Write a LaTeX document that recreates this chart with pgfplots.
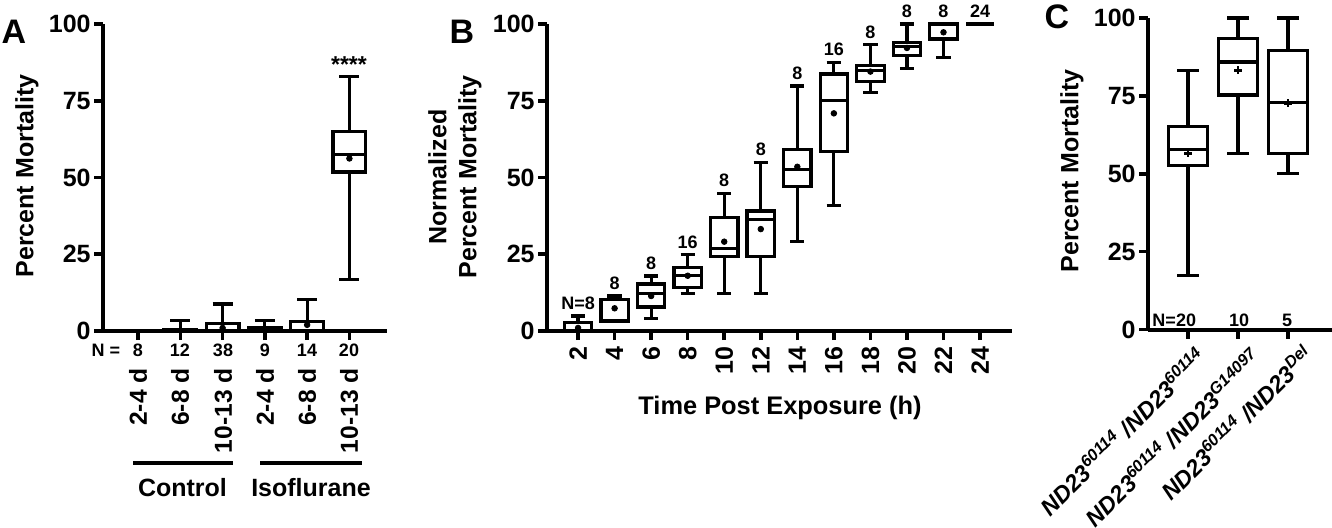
\documentclass[border=0pt]{standalone}
\usepackage{pgfplots}
\pgfplotsset{compat=1.18}
\usepgfplotslibrary{statistics}
\usepackage{fontspec}
\setmainfont{Liberation Sans}

\pgfplotsset{
  panel/.style={
    scale only axis,
    anchor=south west,
    axis lines=left,
    axis line style={line width=2pt,-},
    tick style={line width=1.8pt, black},
    major tick length=4.5pt,
    tick align=outside,
    ymin=0, ymax=100,
    ytick={0,25,50,75,100},
    /pgf/number format/assume math mode=true,
    yticklabel style={font=\bfseries\fontsize{12.5}{13}\selectfont, inner sep=1.5pt},
    xticklabel style={font=\bfseries\fontsize{12}{12}\selectfont},
    clip=false,
    boxplot/draw direction=y,
  },
  bx/.style={black, line width=1.6pt, solid, boxplot prepared={#1}},
  meandot/.style={only marks, mark=*, mark size=1.4pt, black},
}
\tikzset{nlab/.style={font=\bfseries\fontsize{9}{9}\selectfont, inner sep=0pt}}

\begin{document}
\begin{tikzpicture}
\useasboundingbox (0,0) rectangle (666pt,-263.5pt);

% ---------------- Panel A ----------------
\begin{axis}[panel, at={(51.5pt,-165.5pt)}, width=142pt, height=153.5pt,
  xmin=-0.83, xmax=5.89, xtick={0,...,5}, xticklabel={\relax}]
\pgfplotsset{boxplot/box extend=0.78, boxplot/whisker extend=0.47}
\addplot[bx={draw position=0, lower whisker=0, lower quartile=0, median=0, upper quartile=0, upper whisker=0}] coordinates {};
\addplot[bx={draw position=1, lower whisker=0, lower quartile=0, median=0, upper quartile=0.5, upper whisker=3.4}] coordinates {};
\addplot[bx={draw position=2, lower whisker=0, lower quartile=0, median=0, upper quartile=2.5, upper whisker=8.8}] coordinates {};
\addplot[bx={draw position=3, lower whisker=0, lower quartile=0, median=0, upper quartile=1.0, upper whisker=3.4}] coordinates {};
\addplot[bx={draw position=4, lower whisker=0, lower quartile=0, median=0, upper quartile=3.0, upper whisker=10.3}] coordinates {};
\addplot[bx={draw position=5, lower whisker=16.8, lower quartile=51.8, median=57.6, upper quartile=64.9, upper whisker=83.0}] coordinates {};
\addplot[meandot] coordinates {(2,1.0) (3,0.5) (4,2.0) (5,56.2)};
\end{axis}

% ---------------- Panel B ----------------
\begin{axis}[panel, at={(273.5pt,-165.5pt)}, width=232.5pt, height=153.5pt,
  xmin=0.3, xmax=25.75, xtick={2,4,...,24},
  xticklabel style={rotate=90, anchor=east, font=\bfseries\fontsize{12.5}{12.5}\selectfont}]
\pgfplotsset{boxplot/box extend=1.5, boxplot/whisker extend=0.78}
\addplot[bx={draw position=2, lower whisker=0, lower quartile=0, median=0, upper quartile=2.8, upper whisker=4.9}] coordinates {};
\addplot[bx={draw position=4, lower whisker=3.0, lower quartile=3.0, median=3.5, upper quartile=10.3, upper whisker=11.4}] coordinates {};
\addplot[bx={draw position=6, lower whisker=4.1, lower quartile=7.8, median=12.1, upper quartile=15.3, upper whisker=17.9}] coordinates {};
\addplot[bx={draw position=8, lower whisker=12.3, lower quartile=14.2, median=18.2, upper quartile=20.7, upper whisker=24.8}] coordinates {};
\addplot[bx={draw position=10, lower whisker=12.3, lower quartile=24.4, median=26.9, upper quartile=37.0, upper whisker=44.9}] coordinates {};
\addplot[bx={draw position=12, lower whisker=12.3, lower quartile=24.4, median=36.4, upper quartile=39.1, upper whisker=54.8}] coordinates {};
\addplot[bx={draw position=14, lower whisker=29.1, lower quartile=47.0, median=52.7, upper quartile=59.0, upper whisker=79.8}] coordinates {};
\addplot[bx={draw position=16, lower whisker=41.0, lower quartile=58.6, median=75.0, upper quartile=83.7, upper whisker=87.4}] coordinates {};
\addplot[bx={draw position=18, lower whisker=77.6, lower quartile=81.2, median=84.8, upper quartile=86.4, upper whisker=93.2}] coordinates {};
\addplot[bx={draw position=20, lower whisker=85.6, lower quartile=89.7, median=92.6, upper quartile=94.0, upper whisker=100}] coordinates {};
\addplot[bx={draw position=22, lower whisker=89.1, lower quartile=95.1, median=100, upper quartile=100, upper whisker=100}] coordinates {};
\addplot[bx={draw position=24, lower whisker=100, lower quartile=100, median=100, upper quartile=100, upper whisker=100}] coordinates {};
\addplot[meandot] coordinates {(2,1.0) (4,7.4) (6,11.4) (8,18.0) (10,29.1) (12,33.2) (14,53.5) (16,70.9) (18,84.5) (20,92.2) (22,97.3)};
\node[nlab, yshift=6.5pt] at (axis cs:2,4.9) {N=8};
\node[nlab, yshift=6.5pt] at (axis cs:4,11.4) {8};
\node[nlab, yshift=6.5pt] at (axis cs:6,17.9) {8};
\node[nlab, yshift=6.5pt] at (axis cs:8,24.8) {16};
\node[nlab, yshift=6.5pt] at (axis cs:10,44.9) {8};
\node[nlab, yshift=6.5pt] at (axis cs:12,54.8) {8};
\node[nlab, yshift=6.5pt] at (axis cs:14,79.8) {8};
\node[nlab, yshift=6.5pt] at (axis cs:16,87.4) {16};
\node[nlab, yshift=6.5pt] at (axis cs:18,93.2) {8};
\node[nlab, yshift=6.5pt] at (axis cs:20,100) {8};
\node[nlab, yshift=6.5pt] at (axis cs:22,100) {8};
\node[nlab, yshift=6.5pt] at (axis cs:24,100) {24};
\end{axis}

% ---------------- Panel C ----------------
\begin{axis}[panel, at={(574pt,-164.75pt)}, width=92pt, height=155.75pt,
  xmin=-0.8, xmax=2.88, xtick={0,1,2}, xticklabel={\relax}]
\pgfplotsset{boxplot/box extend=0.78, boxplot/whisker extend=0.44}
\addplot[bx={draw position=0, lower whisker=17.3, lower quartile=52.7, median=57.9, upper quartile=65.2, upper whisker=83.1}] coordinates {};
\addplot[bx={draw position=1, lower whisker=56.6, lower quartile=75.3, median=85.9, upper quartile=93.3, upper whisker=100}] coordinates {};
\addplot[bx={draw position=2, lower whisker=50.2, lower quartile=56.4, median=72.9, upper quartile=89.5, upper whisker=100}] coordinates {};
\addplot[only marks, mark=+, mark size=2pt, line width=1.3pt, black] coordinates {(0,56.6) (1,83.2) (2,72.6)};
\end{axis}

% ---------------- Annotations (pixel grid) ----------------
\begin{scope}[x=0.5pt, y=-0.5pt]
\tikzset{lab/.style={font=\bfseries\fontsize{12.5}{15}\selectfont, inner sep=0pt}}
\node[font=\bfseries\fontsize{17}{17}\selectfont, inner sep=0pt] at (14,32) {A};
\node[font=\bfseries\fontsize{17}{17}\selectfont, inner sep=0pt] at (462,32) {B};
\node[font=\bfseries\fontsize{17}{17}\selectfont, inner sep=0pt] at (1057,17) {C};
\node[lab, rotate=90] at (27,176) {Percent Mortality};
\node[lab, rotate=90, align=center] at (455,177) {Normalized\\Percent Mortality};
\node[lab, rotate=90] at (1072,171) {Percent Mortality};
% panel A N values and categories
\node[nlab] at (106,350) {N =};
\foreach \xx/\nn in {138/8, 180/12, 223/38, 265/9, 307/14, 349/20} {
  \node[nlab] at (\xx,350) {\nn};
}
\foreach \xx/\cc in {138/2-4 d, 180/6-8 d, 223/10-13 d, 265/2-4 d, 307/6-8 d, 349/10-13 d} {
  \node[font=\bfseries\fontsize{12.3}{12}\selectfont, inner sep=0pt, rotate=90, anchor=east] at (\xx,368) {\cc};
}
\node[font=\bfseries\fontsize{11.5}{12}\selectfont, inner sep=0pt] at (349,65) {****};
\draw[line width=2pt] (133,463) -- (233,463);
\draw[line width=2pt] (260,463) -- (362,463);
\node[lab] at (182.5,488) {Control};
\node[lab] at (311,488) {Isoflurane};
% panel B x label
\node[font=\bfseries\fontsize{12.7}{15}\selectfont, inner sep=0pt] at (780,408) {Time Post Exposure (h)};
% panel C N values and categories
\node[nlab] at (1186,320) {\llap{N=}20};
\node[nlab] at (1239,320) {10};
\node[nlab] at (1287,320) {5};
\tikzset{clab/.style={font=\bfseries\itshape\fontsize{11.7}{12}\selectfont, inner sep=0pt, rotate=45, anchor=east}}
\node[clab] at (1202,352) {ND23\textsuperscript{60114} /ND23\textsuperscript{60114}};
\node[clab] at (1257,353) {ND23\textsuperscript{60114} /ND23\textsuperscript{G14097}};
\node[clab] at (1309,350) {ND23\textsuperscript{60114} /ND23\textsuperscript{Del}};
\end{scope}
\end{tikzpicture}
\end{document}
